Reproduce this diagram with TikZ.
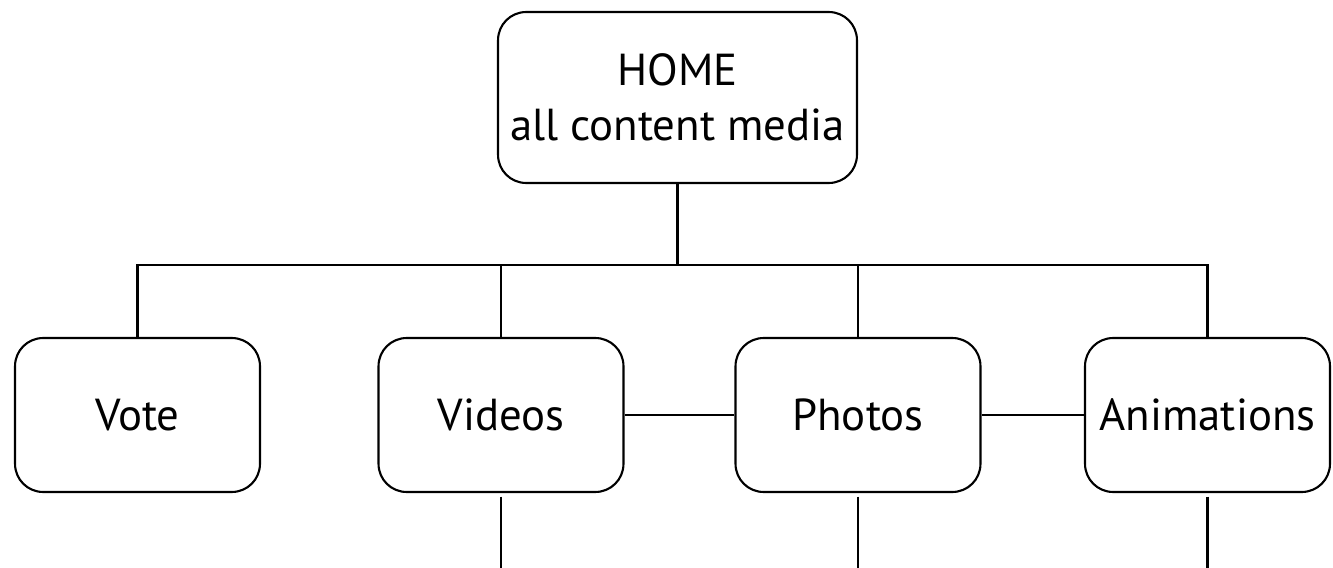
\documentclass[tikz,border=0pt]{standalone}
\usepackage{fontspec}
\setmainfont{PT Sans}
\usetikzlibrary{positioning}

\begin{document}
\begin{tikzpicture}[
			x=0.02cm, y=-0.02cm,
			box/.style={rectangle, draw, rounded corners=16pt, line width=1.2pt, minimum height=3.08cm, minimum width=4.9cm, inner sep=0pt, align=center, font=\fontsize{25.5}{31}\selectfont},
			link/.style={line width=1.2pt}
			]
			\useasboundingbox (0,0) rectangle (1333,568);
			\node[box, minimum width=7.18cm, minimum height=3.42cm] (home) at (677.5,97.5) {HOME\\all content media};
			\node[box] (vote) at (137.5,415) {Vote};
			\node[box] (videos) at (501,415) {Videos};
			\node[box] (photos) at (858,415) {Photos};
			\node[box] (anim) at (1207.5,415) {Animations};
			\coordinate (bus) at (675,265);
			% tree from home to the four sections
			\draw[link] (home.south) -- (home.south |- bus);
			\draw[link] (vote.north) -- (vote.north |- bus) -| (anim.north);
			\draw[link] (videos.north) -- (videos.north |- bus);
			\draw[link] (photos.north) -- (photos.north |- bus);
			% links between sections
			\draw[link] (videos) -- (photos);
			\draw[link] (photos) -- (anim);
			% lines running off the page
			\coordinate (videos-out) at (501,568);
			\coordinate (photos-out) at (858,568);
			\coordinate (anim-out) at (1207.5,568);
			\draw[link, shorten <=2pt] (videos.south) -- (videos-out);
			\draw[link, shorten <=2pt] (photos.south) -- (photos-out);
			\draw[link, shorten <=2pt] (anim.south) -- (anim-out);
		\end{tikzpicture}
\end{document}
